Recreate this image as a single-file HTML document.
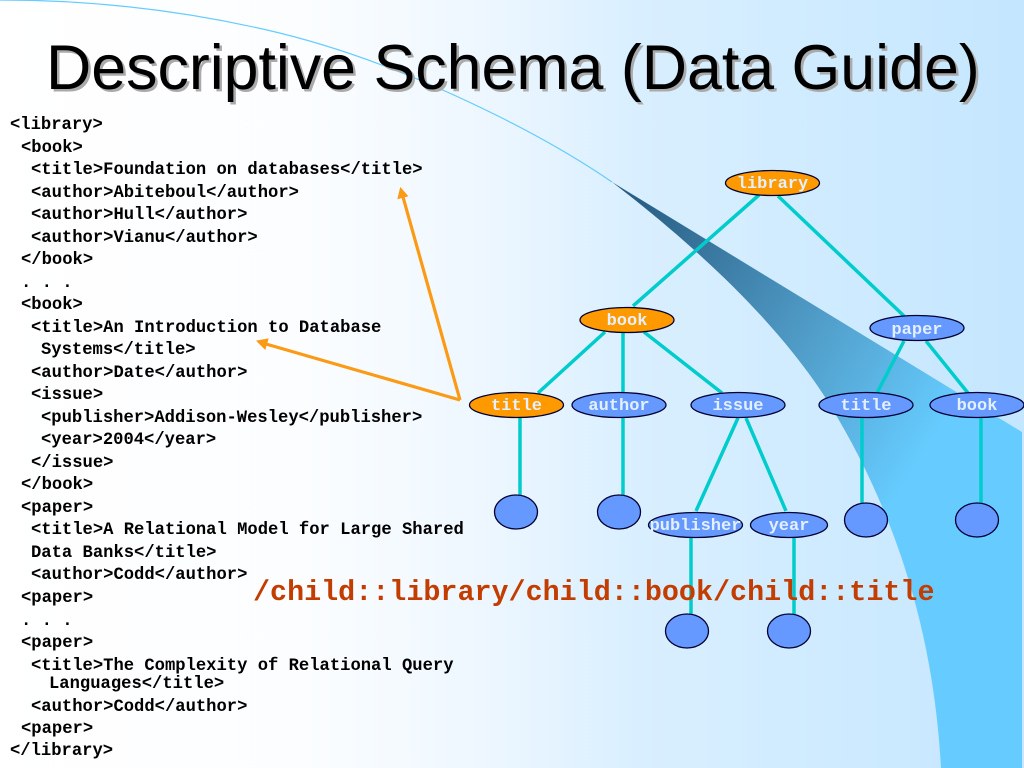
<!DOCTYPE html>
<html><head><meta charset="utf-8"><style>
html,body{margin:0;padding:0;width:1024px;height:768px;overflow:hidden;background:#fff}
svg{display:block}
.c{font-family:"Liberation Mono",monospace;font-weight:bold;font-size:17.18px;fill:#000}
.n{font-family:"Liberation Mono",monospace;font-weight:bold;font-size:17px;fill:#e2f0ff;text-anchor:middle}
.e{fill:#6699ff;stroke:#000033;stroke-width:1.3}
.o{fill:#ff9900;stroke:#000033;stroke-width:1.3}
.l{stroke:#00cccc;stroke-width:3.5;fill:none}
</style></head><body>
<svg width="1024" height="768" viewBox="0 0 1024 768" xmlns="http://www.w3.org/2000/svg">
<defs>
<linearGradient id="bg" x1="0" y1="0" x2="1" y2="0"><stop offset="0" stop-color="#ffffff"/><stop offset="0.3" stop-color="#fbfdff"/><stop offset="0.47" stop-color="#eef7ff"/><stop offset="0.62" stop-color="#d9efff"/><stop offset="0.85" stop-color="#cdeaff"/><stop offset="1" stop-color="#c4e6ff"/></linearGradient>
<linearGradient id="w" gradientUnits="userSpaceOnUse" x1="640" y1="200" x2="960" y2="400"><stop offset="0" stop-color="#2a5f85"/><stop offset="0.6" stop-color="#52a0cc"/><stop offset="1" stop-color="#66ccff"/></linearGradient>
</defs>
<rect width="1024" height="768" fill="url(#bg)"/>
<path d="M612 182L1022 432V768H941C934 640 900 520 830 405C790 340 720 265 612 182Z" fill="url(#w)"/>
<path d="M0 0C90 0 180 10 267 30C350 49 430 82 500 117C540 137 580 160 612 182" fill="none" stroke="#66ccff" stroke-width="1.2"/>

<text x="46" y="89" font-family="'Liberation Sans',sans-serif" font-size="62.7" fill="#aaa" transform="translate(2.5,2.5)">Descriptive Schema (Data Guide)</text>
<text x="46" y="89" font-family="'Liberation Sans',sans-serif" font-size="62.7" fill="#000">Descriptive Schema (Data Guide)</text>

<path class="l" d="M759 195L633 306M778 196L904 316M605 332L538 393M623 332V392M644 332L722 393M904 341L877 393M926 341L968 393M520 418V495M623 418V495M738 418L696 511M746 418L786 511M862 418V503M981 418V503M691 538V615M794 538V615"/>

<ellipse class="o" cx="772.5" cy="183" rx="47" ry="12.5"/>
<ellipse class="o" cx="627" cy="320" rx="47" ry="12.5"/>
<ellipse class="e" cx="917" cy="328" rx="47" ry="12.5"/>
<ellipse class="o" cx="516.5" cy="405" rx="47" ry="12.5"/>
<ellipse class="e" cx="619" cy="405" rx="47" ry="12.5"/>
<ellipse class="e" cx="738" cy="405" rx="47" ry="12.5"/>
<ellipse class="e" cx="866" cy="405" rx="47" ry="12.5"/>
<ellipse class="e" cx="977" cy="405" rx="47" ry="12.5"/>
<ellipse class="e" cx="695.5" cy="525" rx="47" ry="12.5"/>
<ellipse class="e" cx="789" cy="525" rx="38.5" ry="12.5"/>
<ellipse class="e" cx="516" cy="512" rx="21.5" ry="17"/>
<ellipse class="e" cx="619" cy="512" rx="21.5" ry="17"/>
<ellipse class="e" cx="866" cy="520" rx="21.5" ry="17"/>
<ellipse class="e" cx="977" cy="520" rx="21.5" ry="17"/>
<ellipse class="e" cx="687" cy="631" rx="21.5" ry="17"/>
<ellipse class="e" cx="789" cy="631" rx="21.5" ry="17"/>

<text class="n" x="772.5" y="188">library</text>
<text class="n" x="627" y="325">book</text>
<text class="n" x="917" y="334">paper</text>
<text class="n" x="516.5" y="410">title</text>
<text class="n" x="619" y="410">author</text>
<text class="n" x="738" y="410">issue</text>
<text class="n" x="866" y="410">title</text>
<text class="n" x="977" y="410">book</text>
<text class="n" x="695.5" y="530">publisher</text>
<text class="n" x="789" y="530">year</text>

<path d="M460 400L403 197M460 400L266 344" stroke="#fb9a14" stroke-width="3.2" fill="none"/>
<path d="M400.5 188L407.5 196L398 198.500ZM257 341L268 339L265 349Z" fill="#fb9a14" stroke="#fb9a14"/>

<g xml:space="preserve">
<text class="c" x="10" y="129">&lt;library&gt;</text>
<text class="c" x="21" y="152">&lt;book&gt;</text>
<text class="c" x="31" y="174">&lt;title&gt;Foundation on databases&lt;/title&gt;</text>
<text class="c" x="31" y="197">&lt;author&gt;Abiteboul&lt;/author&gt;</text>
<text class="c" x="31" y="219">&lt;author&gt;Hull&lt;/author&gt;</text>
<text class="c" x="31" y="242">&lt;author&gt;Vianu&lt;/author&gt;</text>
<text class="c" x="21" y="264">&lt;/book&gt;</text>
<text class="c" x="21" y="287">. . .</text>
<text class="c" x="21" y="309">&lt;book&gt;</text>
<text class="c" x="31" y="332">&lt;title&gt;An Introduction to Database</text>
<text class="c" x="41" y="354">Systems&lt;/title&gt;</text>
<text class="c" x="31" y="377">&lt;author&gt;Date&lt;/author&gt;</text>
<text class="c" x="31" y="399">&lt;issue&gt;</text>
<text class="c" x="41" y="422">&lt;publisher&gt;Addison-Wesley&lt;/publisher&gt;</text>
<text class="c" x="41" y="444">&lt;year&gt;2004&lt;/year&gt;</text>
<text class="c" x="31" y="467">&lt;/issue&gt;</text>
<text class="c" x="21" y="489">&lt;/book&gt;</text>
<text class="c" x="21" y="512">&lt;paper&gt;</text>
<text class="c" x="31" y="534">&lt;title&gt;A Relational Model for Large Shared</text>
<text class="c" x="31" y="557">Data Banks&lt;/title&gt;</text>
<text class="c" x="31" y="579">&lt;author&gt;Codd&lt;/author&gt;</text>
<text class="c" x="21" y="602">&lt;paper&gt;</text>
<text class="c" x="21" y="625">. . .</text>
<text class="c" x="21" y="647">&lt;paper&gt;</text>
<text class="c" x="31" y="670">&lt;title&gt;The Complexity of Relational Query</text>
<text class="c" x="49" y="688">Languages&lt;/title&gt;</text>
<text class="c" x="31" y="711">&lt;author&gt;Codd&lt;/author&gt;</text>
<text class="c" x="21" y="733">&lt;paper&gt;</text>
<text class="c" x="10" y="755">&lt;/library&gt;</text>
</g>

<text x="253" y="600" font-family="'Liberation Mono',monospace" font-weight="bold" font-size="28.4" fill="#c33c00">/child::library/child::book/child::title</text>
</svg>
</body></html>
